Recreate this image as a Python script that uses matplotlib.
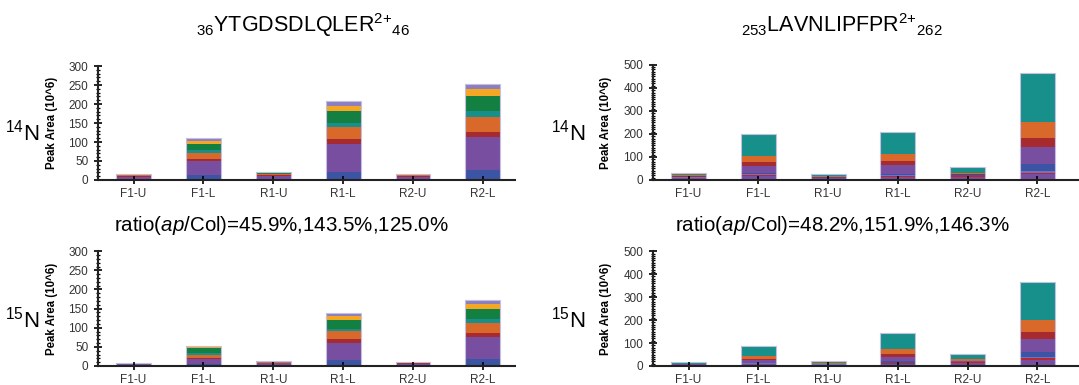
import matplotlib
matplotlib.use("Agg")
import matplotlib.pyplot as plt
import numpy as np
from matplotlib.ticker import MultipleLocator

plt.rcParams["font.family"] = ["Liberation Sans", "DejaVu Sans"]
plt.rcParams["mathtext.fontset"] = "custom"
plt.rcParams["mathtext.rm"] = "Liberation Sans"
plt.rcParams["mathtext.it"] = "Liberation Sans:italic"

samples = ["F1-U", "F1-L", "R1-U", "R1-L", "R2-U", "R2-L"]

# YTGDSDLQLER panels, segments from bottom to top
ytg_colors = ["#3b54a3", "#774ea0", "#a72a2e", "#d8692b",
              "#178f8a", "#138042", "#f5a623", "#8b7fc0"]
ytg_14n = [
    [2, 14, 3, 22, 2, 26],
    [6, 35, 8, 72, 6, 87],
    [2, 7, 2, 13, 2, 14],
    [3, 16, 3, 33, 3, 39],
    [1, 7, 1, 10, 1, 15],
    [1.5, 17, 2, 32, 1.5, 40],
    [0.5, 7, 1, 14, 0.5, 18],
    [0.5, 7, 1, 12, 0.5, 13],
]
ytg_15n = [
    [1, 4, 2, 16, 1.5, 19],
    [3, 14, 5, 45, 4, 58],
    [1, 3, 1.5, 9, 1, 9],
    [1, 9, 2, 21, 1.5, 26],
    [0.5, 3, 0.5, 7, 0.5, 11],
    [1, 13, 1.5, 21, 1.5, 26],
    [0.3, 4, 0.5, 11, 0.5, 12],
    [0.2, 3, 0.5, 9, 0.5, 11],
]

# LAVNLIPFPR panels
lav_colors = ["#774ea0", "#b8282e", "#6f72c4", "#3b54a3", "#774ea0",
              "#a72a2e", "#d8692b", "#178f8a", "#e3e02a"]
lav_14n = [
    [8, 18, 8, 14, 14, 25],
    [2, 3, 2, 4, 3, 5],
    [1, 3, 0.5, 3, 1, 8],
    [1, 5, 0.5, 7, 2, 30],
    [2, 32, 2, 36, 1, 77],
    [2, 16, 2, 18, 4, 38],
    [4, 29, 3, 29, 4, 67],
    [8, 92, 8, 95, 29, 210],
    [1, 2, 0.5, 2, 0.5, 4],
]
lav_15n = [
    [4, 8, 5, 8, 14, 28],
    [1, 2, 1, 3, 2, 5],
    [0.5, 2, 0.5, 2, 1, 8],
    [0.5, 3, 0.5, 7, 1, 19],
    [1, 10, 1, 20, 2, 59],
    [1, 6, 1.5, 11, 3, 31],
    [2, 14, 2, 23, 7, 49],
    [6, 43, 8, 66, 22, 165],
    [0.5, 1, 0.5, 2, 1, 4],
]

titles = [r"${}_{36}\mathrm{YTGDSDLQLER}^{\text{2+}}{}_{46}$",
          r"${}_{253}\mathrm{LAVNLIPFPR}^{\text{2+}}{}_{262}$"]
ratios = [r"ratio($\mathit{ap}$/Col)=45.9%,143.5%,125.0%",
          r"ratio($\mathit{ap}$/Col)=48.2%,151.9%,146.3%"]


def draw_panel(ax, series, colors, ymax, major, xright):
    x = np.arange(len(samples))
    bottom = np.zeros(len(samples))
    for vals, c in zip(series, colors):
        vals = np.array(vals, dtype=float)
        ax.bar(x, vals, 0.5, bottom=bottom, color=c, linewidth=0)
        bottom += vals
    ax.bar(x, bottom, 0.5, fill=False, edgecolor="#c4bfe0", linewidth=0.8)

    ax.set_xlim(-0.51, xright)
    ax.set_ylim(0, ymax)
    ax.set_xticks(x)
    ax.set_xticklabels(samples, fontsize=8.5, color="#333333")
    ax.yaxis.set_major_locator(MultipleLocator(major))
    ax.yaxis.set_minor_locator(MultipleLocator(10))
    ax.tick_params(axis="y", which="major", direction="inout", length=6,
                   width=1.2, labelsize=8.5, labelcolor="#333333", pad=4)
    ax.tick_params(axis="y", which="minor", direction="inout", length=3.5, width=0.9)
    ax.tick_params(axis="x", direction="inout", length=6, width=1.2, pad=3)
    for s in ["top", "right"]:
        ax.spines[s].set_visible(False)
    for s in ["left", "bottom"]:
        ax.spines[s].set_linewidth(1.5)
        ax.spines[s].set_color("#222222")
    ax.set_ylabel("Peak Area (10^6)", fontsize=8.3, fontweight="bold")
    ax.yaxis.set_label_coords(-0.097, 0.5)


fig = plt.figure(figsize=(10.79, 3.85), dpi=100)

ax1 = fig.add_axes([0.0908, 0.5325, 0.3865, 0.296])
ax2 = fig.add_axes([0.6052, 0.5325, 0.395, 0.299])
ax3 = fig.add_axes([0.0908, 0.0494, 0.3865, 0.298])
ax4 = fig.add_axes([0.6052, 0.0494, 0.395, 0.298])

draw_panel(ax1, ytg_14n, ytg_colors, 300, 50, 5.46)
draw_panel(ax3, ytg_15n, ytg_colors, 300, 50, 5.46)
draw_panel(ax2, lav_14n, lav_colors, 500, 100, 5.6)
draw_panel(ax4, lav_15n, lav_colors, 500, 100, 5.6)

fig.text(0.281, 0.917, titles[0], fontsize=15.5, ha="center", va="baseline")
fig.text(0.780, 0.917, titles[1], fontsize=15.5, ha="center", va="baseline")
fig.text(0.261, 0.40, ratios[0], fontsize=14.8, ha="center", va="baseline")
fig.text(0.781, 0.40, ratios[1], fontsize=14.8, ha="center", va="baseline")

for xf in [0.021, 0.527]:
    fig.text(xf, 0.655, r"$^{14}\mathrm{N}$", fontsize=16, ha="center", va="center")
    fig.text(xf, 0.169, r"$^{15}\mathrm{N}$", fontsize=16, ha="center", va="center")

fig.savefig("out.png", dpi=100)
